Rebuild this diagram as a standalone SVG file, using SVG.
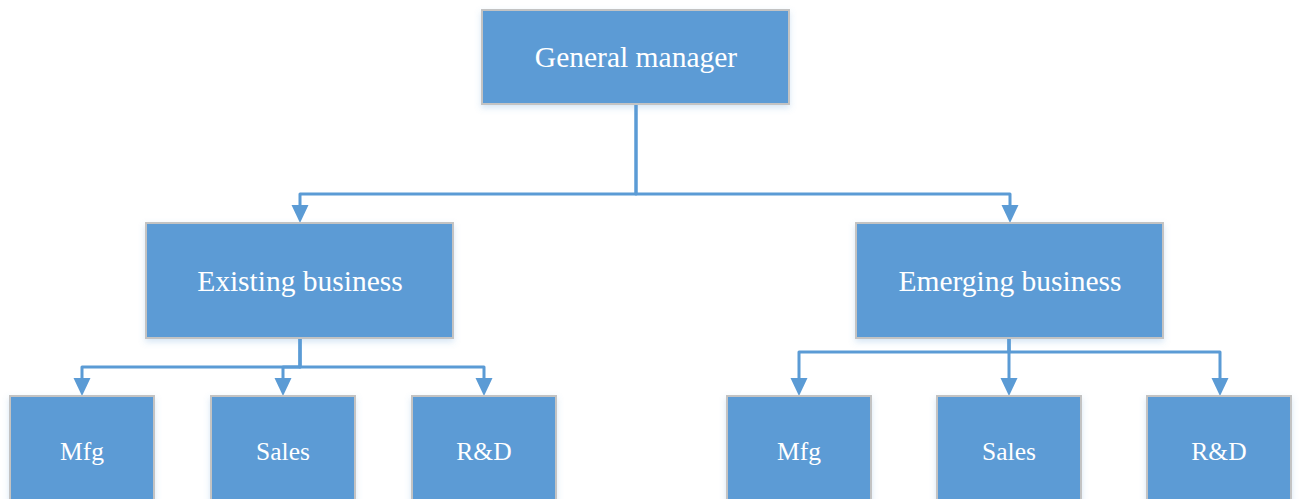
<svg xmlns="http://www.w3.org/2000/svg" width="1300" height="499" viewBox="0 0 1300 499">
<style>
.box{fill:#5B9BD5;stroke:#C3C3C3;stroke-width:2;filter:url(#sh)}
.lbl{font-family:"Liberation Serif","Times New Roman",serif;fill:#FFFFFF;text-anchor:middle}
.big{font-size:29.5px}
.small{font-size:25.5px}
.conn{fill:none;stroke:#5B9BD5;stroke-width:3;stroke-linejoin:round;marker-end:url(#arr)}
</style>
<defs>
<filter id="sh" x="-10%" y="-10%" width="120%" height="130%">
<feDropShadow dx="0" dy="3" stdDeviation="3" flood-color="#5B9BD5" flood-opacity="0.25"/>
</filter>
<marker id="arr" markerUnits="userSpaceOnUse" viewBox="0 -9 18 18" refX="0" refY="0" markerWidth="18" markerHeight="18" orient="auto">
<path d="M0,-8.5 L18,0 L0,8.5 Z" fill="#5B9BD5"/>
</marker>
</defs>
<rect width="1300" height="499" fill="#FFFFFF"/>
<g id="connectors">
<path class="conn" d="M636,104 V194 H300 V205"/>
<path class="conn" d="M636,104 V194 H1010 V205"/>
<path class="conn" d="M300,338 V367 H82 V378"/>
<path class="conn" d="M300,338 V367 H283 V378"/>
<path class="conn" d="M300,338 V367 H484 V378"/>
<path class="conn" d="M1009,338 V352 H799 V378"/>
<path class="conn" d="M1009,338 V378"/>
<path class="conn" d="M1009,338 V352 H1220 V378"/>
</g>
<g id="gm">
<rect class="box" x="482" y="10" width="307" height="94"/>
<text class="lbl big" x="636" y="67">General manager</text>
</g>
<g id="existing">
<rect class="box" x="146" y="223" width="307" height="115"/>
<text class="lbl big" x="300" y="291">Existing business</text>
</g>
<g id="emerging">
<rect class="box" x="856" y="223" width="307" height="115"/>
<text class="lbl big" x="1010" y="291">Emerging business</text>
</g>
<g id="ex-mfg">
<rect class="box" x="10" y="396" width="144" height="120"/>
<text class="lbl small" x="82" y="460">Mfg</text>
</g>
<g id="ex-sales">
<rect class="box" x="211" y="396" width="144" height="120"/>
<text class="lbl small" x="283" y="460">Sales</text>
</g>
<g id="ex-rd">
<rect class="box" x="412" y="396" width="144" height="120"/>
<text class="lbl small" x="484" y="460">R&amp;D</text>
</g>
<g id="em-mfg">
<rect class="box" x="727" y="396" width="144" height="120"/>
<text class="lbl small" x="799" y="460">Mfg</text>
</g>
<g id="em-sales">
<rect class="box" x="937" y="396" width="144" height="120"/>
<text class="lbl small" x="1009" y="460">Sales</text>
</g>
<g id="em-rd">
<rect class="box" x="1147" y="396" width="144" height="120"/>
<text class="lbl small" x="1219" y="460">R&amp;D</text>
</g>
</svg>
